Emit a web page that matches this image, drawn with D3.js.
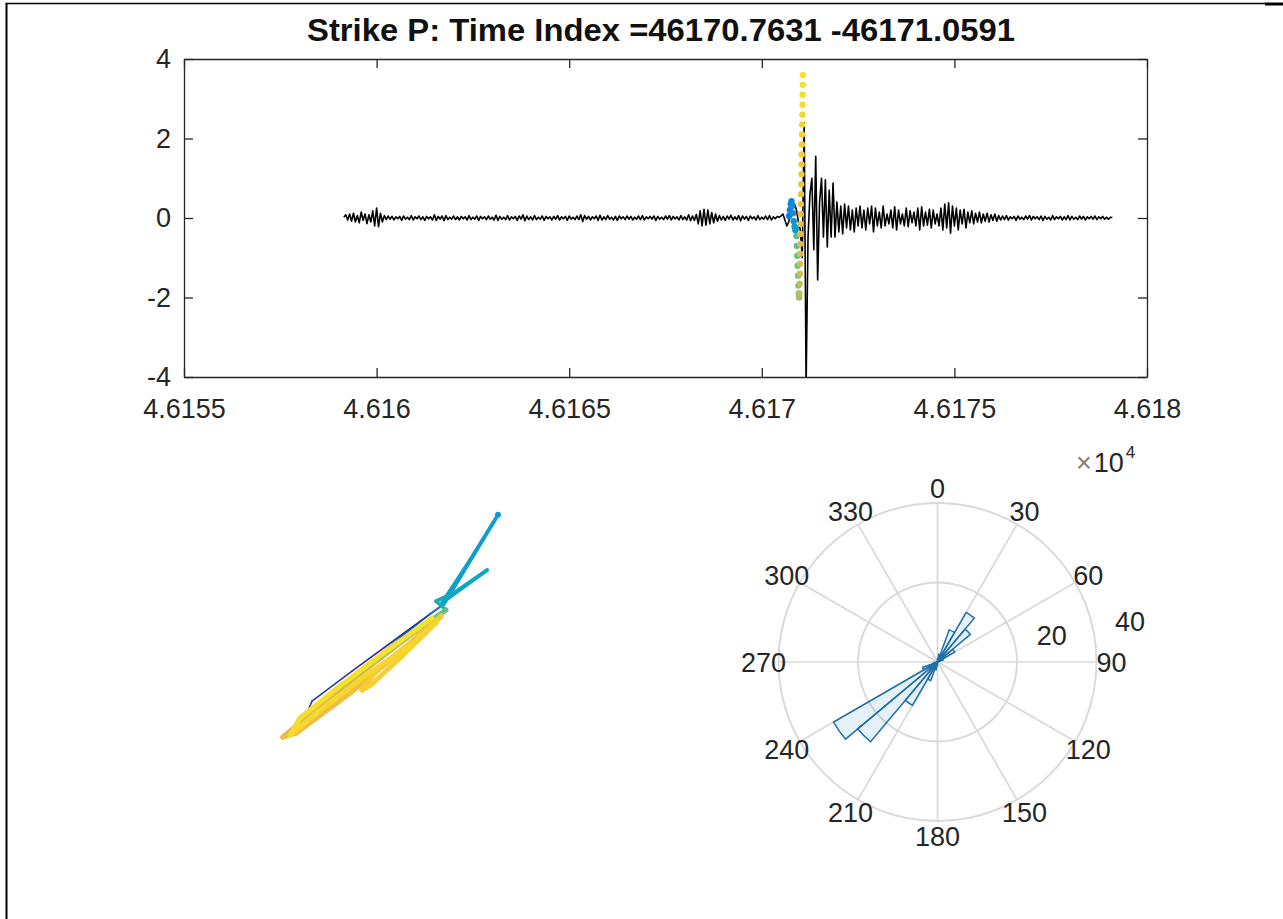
<!DOCTYPE html>
<html><head><meta charset="utf-8">
<script src="https://cdn.jsdelivr.net/npm/d3@7"></script>
<style>
html,body{margin:0;padding:0;background:#fff;}
svg{display:block;}
</style></head><body>
<svg id="chart" width="1283" height="919"></svg>
<script>
// ---------------- DATA ----------------
const titleText = "Strike P: Time Index =46170.7631 -46171.0591";
const xTicks = [4.6155, 4.616, 4.6165, 4.617, 4.6175, 4.618];
const yTicks = [-4, -2, 0, 2, 4];

// seismic trace: regular sampling from traceStart with traceStep
const traceStart = 4.615915;
const traceStep = 0.000005;
const traceValues = [
 0.02,0.08,-0.05,0.10,-0.08,0.12,-0.10,0.06,-0.12,0.15,-0.06,0.10,-0.14,0.08,-0.10,0.18,-0.20,0.25,-0.22,0.12,-0.10,0.06,
 -0.04,0.05,-0.03,0.04,-0.05,0.03,-0.02,0.04,-0.06,0.05,-0.03,0.02,-0.04,0.06,-0.05,0.03,-0.02,0.05,-0.04,0.03,
 -0.06,0.04,-0.02,0.03,-0.05,0.08,-0.06,0.04,-0.03,0.05,-0.07,0.06,-0.04,0.02,-0.03,0.05,-0.04,0.03,-0.05,
 0.04,-0.02,0.03,-0.05,0.06,-0.04,0.02,-0.03,0.05,-0.06,0.04,-0.02,0.03,-0.04,0.05,-0.03,0.02,-0.05,0.07,-0.06,
 0.04,-0.03,0.02,-0.04,0.06,-0.05,0.03,-0.02,0.04,-0.06,0.05,-0.03,0.08,-0.07,0.05,-0.04,0.03,-0.05,0.06,-0.04,
 0.02,-0.03,0.05,-0.06,0.04,-0.02,0.03,-0.05,0.04,-0.03,0.06,-0.05,0.03,-0.02,0.04,-0.06,0.05,-0.03,0.02,-0.04,
 0.05,-0.04,0.08,-0.09,0.06,-0.03,0.04,-0.05,0.03,-0.02,0.05,-0.06,0.07,-0.05,0.03,-0.04,0.06,-0.03,0.02,-0.05,
 0.04,-0.06,0.05,-0.02,0.03,-0.04,0.05,-0.03,0.04,-0.05,0.02,-0.03,0.05,-0.04,0.06,-0.05,0.03,-0.02,0.04,-0.03,
 0.05,-0.06,0.04,-0.03,0.02,-0.04,0.05,-0.03,0.06,-0.05,0.04,-0.02,0.03,-0.05,0.06,-0.04,0.03,-0.05,0.08,-0.07,
 0.05,-0.06,0.09,
 -0.15,0.18,-0.2,0.22,-0.18,0.2,-0.15,0.14,-0.12,0.1,-0.08,0.06,-0.05,
 0.04,-0.06,0.05,-0.03,0.07,-0.05,0.03,-0.04,0.06,-0.07,0.05,-0.03,0.04,-0.06,0.05,-0.02,0.03,-0.05,0.06,-0.04,
 0.02,-0.03,0.05,-0.04,0.06,-0.05,0.03,-0.02,0.04,0.02,
 0.05,0.1,-0.05,-0.2,-0.1,0.15,0.3,0.35,0.2,-0.1,-0.3,-1.0,2.4,-4.2,-0.5,0.6,
 1.0,-0.8,1.55,-1.56,0.4,1.0,-0.48,0.96,-0.73,0.7,-0.48,0.88,-0.48,
 0.4,-0.35,0.3,-0.4,0.35,-0.25,0.3,-0.3,0.2,-0.35,0.25,-0.2,0.3,-0.25,0.2,-0.3,0.25,-0.15,
 0.3,-0.35,0.25,-0.2,0.15,-0.25,0.3,-0.2,0.1,-0.15,0.2,-0.25,0.28,-0.3,0.2,-0.15,0.1,-0.2,0.25,-0.22,
 0.18,-0.12,0.15,-0.2,0.25,-0.3,0.28,-0.2,0.15,-0.18,0.22,-0.25,0.2,-0.15,0.1,-0.2,0.25,
 -0.3,0.35,-0.25,0.38,-0.38,0.3,-0.2,0.25,-0.3,0.2,-0.15,0.22,-0.25,0.15,
 -0.12,0.18,-0.15,0.12,-0.1,0.15,-0.12,0.1,-0.08,0.12,-0.1,0.08,-0.06,0.1,-0.08,0.06,-0.05,
 0.05,-0.04,0.06,-0.05,0.03,-0.02,0.04,-0.06,0.05,-0.03,0.02,-0.04,0.05,-0.03,0.06,-0.05,0.04,-0.02,0.03,-0.04,
 0.05,-0.06,0.04,-0.03,0.02,-0.05,0.06,-0.04,0.03,-0.02,0.04,-0.05,0.03,-0.04,0.06,-0.05,0.04,-0.03,0.02,-0.04,
 0.05,-0.03,0.04,-0.05,0.03,-0.02,0.04,-0.03,0.05,-0.04,0.03,-0.02,0.04,-0.03,0.02,-0.03,0.02,0.01
];

// picked window markers (time, amplitude), coloured by order
const markerTimes = [
 4.617071,4.617073,4.617075,4.617077,4.617079,4.617081,4.617083,4.617085,4.617087,4.617089,
 4.617090,4.617091,4.617092,4.617093,4.617094,4.617095,4.617096,4.617097,
 4.6170980,4.6170984,4.6170988,4.6170992,4.6170996,4.6171000,4.6171004,4.6171008,4.6171012,4.6171016,
 4.6171020,4.6171024,4.6171028,4.6171032,4.6171036,4.6171040,4.6171044,4.6171048,4.6171052,4.6171056,
 4.6171060,4.6171064,4.6171068
];
const markerValues = [
 0.05,0.2,0.35,0.42,0.3,0.12,-0.08,-0.22,-0.3,-0.25,
 -0.45,-0.7,-0.95,-1.2,-1.45,-1.7,-1.9,-2.0,
 -1.9,-1.65,-1.4,-1.15,-0.9,-0.65,-0.4,-0.15,0.1,0.35,0.6,0.85,1.1,1.35,1.6,1.85,2.1,2.35,2.6,2.85,3.1,3.35,3.6
];

// particle motion (hodogram): E, N components and relative time
const hodoE = [0.03,-1.0,-2.2,-3.2,-3.43,-2.95,-1.5,-0.25,0.1,1.45,0.75,0.05,1.18,0.38,-0.1,0.15,-0.5,-1.55,-2.75,-3.93,-3.6,-2.25,-0.88,0.03,-0.75,-1.55,-1.95,-1.7,-1.0,-0.08,-0.62,-1.88,-3.05,-3.75,-3.5,-2.5,-1.38,-0.2];
const hodoN = [0.10,-0.65,-1.53,-2.28,-2.8,-2.55,-1.1,-0.1,0.15,2.38,1.25,0.18,1.0,0.45,0.22,0.0,-0.45,-1.25,-2.18,-3.18,-3.08,-2.08,-0.95,-0.15,-0.83,-1.45,-2.0,-1.85,-1.2,-0.3,-0.8,-1.65,-2.55,-3.13,-2.7,-1.9,-1.05,-0.2];
const hodoTime = [0.0,0.01,0.02,0.03,0.04,0.05,0.06,0.07,0.30,0.32,0.34,0.36,0.38,0.40,0.42,0.45,
 0.70,0.74,0.77,0.79,0.81,0.83,0.85,0.86,0.87,0.88,0.89,0.9,0.91,0.92,0.93,0.94,0.95,0.96,0.97,0.98,0.99,1.0];

// rose diagram (polar histogram), values in units of 1e4
const roseBinStart = [0,10,20,30,40,50,60,180,190,200,210,220,230,240,250];
const roseBinWidth = 10;
const roseValues = [0.8,2,8.6,14.4,10.8,5,1.5,0.8,2,5,12.6,26.2,30.2,4,1];
const thetaTicks = [0,30,60,90,120,150,180,210,240,270,300,330];
const rTicks = [20,40];
const rExponent = "4";

// ---------------- STYLE ----------------
const FONT = '"Liberation Sans", Arial, Helvetica, sans-serif';
const TXT = "#262626";
const parulaStops = ["#352A87","#0D5EDD","#0F7CD8","#1296D4","#09A9C3","#37B89D","#76BF7C","#B7BD64","#EBBA49","#F8CE2E","#F4E42C"];
const parula = d3.piecewise(d3.interpolateRgb, parulaStops);

const svg = d3.select("#chart").attr("font-family", FONT);

// page frame
svg.append("line").attr("x1",6.5).attr("y1",3).attr("x2",6.5).attr("y2",919).attr("stroke","#000").attr("stroke-width",2);
svg.append("line").attr("x1",5.5).attr("y1",3.5).attr("x2",1265).attr("y2",3.5).attr("stroke","#000").attr("stroke-width",1.6);
svg.append("rect").attr("x",1265).attr("y",2.5).attr("width",18).attr("height",3).attr("fill","#000");

// ---------------- TOP: waveform ----------------
const L = 184, R = 1147, T = 59, B = 377;
const x = d3.scaleLinear().domain([4.6155, 4.618]).range([L, R]);
const y = d3.scaleLinear().domain([-4, 4]).range([B, T]);

svg.append("text").attr("x", 661).attr("y", 41).attr("text-anchor","middle")
  .attr("font-size", 31).attr("font-weight","bold").attr("fill","#111")
  .attr("textLength", 708).attr("lengthAdjust","spacingAndGlyphs").text(titleText);

svg.append("clipPath").attr("id","clipTop").append("rect").attr("x",L).attr("y",T).attr("width",R-L).attr("height",B-T);

const line = d3.line().x((d,i) => x(traceStart + i*traceStep)).y(d => y(d));
svg.append("path").datum(traceValues).attr("clip-path","url(#clipTop)")
  .attr("d", line).attr("fill","none").attr("stroke","#000").attr("stroke-width",1.6).attr("stroke-linejoin","round");

const nM = markerTimes.length;
const markerColorPos = d3.scaleLinear().domain([0, 9, 10, 17, 18, nM-1]).range([0.2, 0.34, 0.55, 0.66, 0.72, 1.0]);
svg.append("g").attr("clip-path","url(#clipTop)").selectAll("circle").data(markerTimes).join("circle")
  .attr("cx", d => x(d)).attr("cy", (d,i) => y(markerValues[i])).attr("r", 3.2)
  .attr("fill", (d,i) => parula(markerColorPos(i)));

const fmtX = d => String(+d.toFixed(4));
function styleAxis(g){
  g.select(".domain").attr("stroke", TXT).attr("stroke-width", 1.3);
  g.selectAll(".tick line").attr("stroke", TXT).attr("stroke-width", 1.3);
  g.selectAll(".tick text").attr("fill", TXT).attr("font-size", 27).attr("font-family", FONT);
}
const gB = svg.append("g").attr("transform",`translate(0,${B})`)
  .call(d3.axisBottom(x).tickValues(xTicks).tickFormat(fmtX).tickSizeInner(-9).tickSizeOuter(0).tickPadding(22));
styleAxis(gB);
const gT = svg.append("g").attr("transform",`translate(0,${T})`)
  .call(d3.axisTop(x).tickValues(xTicks).tickFormat("").tickSizeInner(-9).tickSizeOuter(0));
styleAxis(gT);
const gL = svg.append("g").attr("transform",`translate(${L},0)`)
  .call(d3.axisLeft(y).tickValues(yTicks).tickFormat(d => String(d)).tickSizeInner(-9).tickSizeOuter(0).tickPadding(13));
styleAxis(gL);
const gR = svg.append("g").attr("transform",`translate(${R},0)`)
  .call(d3.axisRight(y).tickValues(yTicks).tickFormat("").tickSizeInner(-9).tickSizeOuter(0));
styleAxis(gR);

// ---------------- BOTTOM LEFT: hodogram ----------------
const hx = d3.scaleLinear().domain([-4.5, 1.5]).range([260, 500]);
const hy = d3.scaleLinear().domain([-3.5, 2.5]).range([750, 510]);
const segs = d3.range(hodoE.length - 1);
const segT = i => (hodoTime[i] + hodoTime[i+1]) / 2;
svg.append("g").selectAll("line").data(segs).join("line")
  .attr("x1", i => hx(hodoE[i])).attr("y1", i => hy(hodoN[i]))
  .attr("x2", i => hx(hodoE[i+1])).attr("y2", i => hy(hodoN[i+1]))
  .attr("stroke", i => parula(segT(i)))
  .attr("stroke-width", i => segT(i) < 0.2 ? 1.6 : (segT(i) < 0.5 ? 3.5 : 5))
  .attr("stroke-linecap","round").attr("stroke-linejoin","round");
svg.append("g").selectAll("circle").data(d3.range(hodoE.length).filter(i => hodoTime[i] > 0.31 && hodoTime[i] < 0.33)).join("circle")
  .attr("cx", i => hx(hodoE[i])).attr("cy", i => hy(hodoN[i])).attr("r", 3)
  .attr("fill", i => parula(hodoTime[i]));

// ---------------- BOTTOM RIGHT: rose ----------------
const cx = 937.5, cy = 662;
const rS = d3.scaleLinear().domain([0, 40]).range([0, 159]);
const gp = svg.append("g").attr("transform", `translate(${cx},${cy})`);
const GRID = "#d9d9d9";
gp.selectAll("line.spoke").data(thetaTicks).join("line").attr("class","spoke")
  .attr("x1",0).attr("y1",0)
  .attr("x2", d => rS(40)*Math.sin(d*Math.PI/180)).attr("y2", d => -rS(40)*Math.cos(d*Math.PI/180))
  .attr("stroke", GRID).attr("stroke-width", 1.7);
gp.selectAll("circle.ring").data(rTicks).join("circle").attr("class","ring")
  .attr("r", d => rS(d)).attr("fill","none").attr("stroke", GRID).attr("stroke-width", 1.9);

const arc = d3.arc().innerRadius(0);
gp.selectAll("path.bar").data(roseBinStart).join("path").attr("class","bar")
  .attr("d", (d,i) => arc({outerRadius: rS(roseValues[i]), startAngle: d*Math.PI/180, endAngle: (d+roseBinWidth)*Math.PI/180}))
  .attr("fill", "#0072BD").attr("fill-opacity", 0.1)
  .attr("stroke", "#1f6fa8").attr("stroke-width", 1.5).attr("stroke-linejoin","miter");

gp.selectAll("text.theta").data(thetaTicks).join("text").attr("class","theta")
  .attr("x", d => 174*Math.sin(d*Math.PI/180)).attr("y", d => -174*Math.cos(d*Math.PI/180))
  .attr("dy","0.36em").attr("text-anchor","middle").attr("font-size",27).attr("fill",TXT)
  .text(d => String(d));

const rLabAng = 80*Math.PI/180;
gp.selectAll("text.rlab").data(rTicks).join("text").attr("class","rlab")
  .attr("x", d => rS(d)*Math.sin(rLabAng) + 36).attr("y", d => -rS(d)*Math.cos(rLabAng) - 13)
  .attr("dy","0.36em").attr("text-anchor","middle").attr("font-size",27).attr("fill",TXT)
  .text(d => String(d));

// exponent label  ×10^4
const ex = svg.append("text").attr("x", 1076).attr("y", 472).attr("fill", TXT);
ex.append("tspan").attr("font-size", 27).attr("fill","#808080").text("\u00d7");
ex.append("tspan").attr("font-size", 27).attr("dx", 2).text("10");
ex.append("tspan").attr("font-size", 17).attr("dy", -14).attr("dx", 2).text(rExponent);
</script>
</body></html>
